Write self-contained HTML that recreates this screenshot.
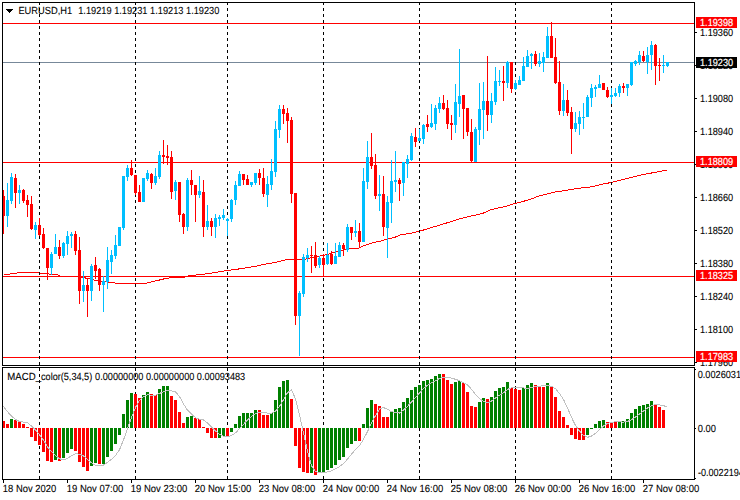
<!DOCTYPE html>
<html><head><meta charset="utf-8"><title>EURUSD,H1</title>
<style>
html,body{margin:0;padding:0;background:#fff;}
svg{display:block;}
text{font-family:"Liberation Sans",Arial,sans-serif;font-size:10.3px;fill:#000;stroke:#000;stroke-width:0.1px;text-rendering:geometricPrecision;}
.w{fill:#fff;stroke:#fff;stroke-width:0.2px;}
</style></head><body>
<svg width="740" height="500" viewBox="0 0 740 500">
<rect x="0" y="0" width="740" height="500" fill="#fff"/>
<g shape-rendering="crispEdges">
<rect x="3" y="23" width="691" height="1" fill="#ff0000"/>
<rect x="3" y="162" width="691" height="1" fill="#ff0000"/>
<rect x="3" y="276" width="691" height="1" fill="#ff0000"/>
<rect x="3" y="357" width="691" height="1" fill="#ff0000"/>
<rect x="3" y="62" width="691" height="1" fill="#778899"/>
<polyline points="3.5,274.5 9.5,274.5 10.5,273.5 16.5,273.5 17.5,272.5 38.5,272.5 39.5,273.5 48.5,273.5 49.5,274.5 57.5,274.5 58.5,275.5 60.5,276.5 78.5,276.5 85.5,278.0 95.5,280.3 110.5,282.4 118.5,283.5 144.5,283.5 148.5,282.6 157.5,280.5 165.5,278.5 173.5,277.5 183.5,277.5 189.5,275.7 202.5,274.3 215.5,272.5 227.5,270.5 241.5,268.6 254.5,266.5 267.5,263.7 276.5,262.2 286.5,259.5 304.5,259.5 309.5,258.1 325.5,254.9 331.5,253.2 341.5,250.6 349.5,248.5 357.5,248.5 364.5,245.5 372.5,242.7 380.5,241.1 387.5,239.1 395.5,237.0 401.6,234.3 408.5,233.8 419.5,231.3 429.5,228.1 440.5,224.9 453.5,220.8 458.5,219.2 466.5,217.1 482.4,213.5 490.5,209.9 498.6,207.8 506.8,206.2 514.9,203.5 523.5,201.3 531.5,198.9 539.5,195.7 547.3,194.0 555.4,191.9 563.5,190.8 576.5,188.6 592.4,186.7 600.5,184.6 612.5,182.2 625.5,178.9 641.5,174.9 657.3,171.9 667.5,170.0" fill="none" stroke="#ff0000" stroke-width="1"/>
<path d="M39 3h1v2h-1zM39 8h1v3h-1zM39 14h1v3h-1zM39 20h1v3h-1zM39 26h1v3h-1zM39 32h1v3h-1zM39 38h1v3h-1zM39 44h1v3h-1zM39 50h1v3h-1zM39 56h1v3h-1zM39 62h1v3h-1zM39 68h1v3h-1zM39 74h1v3h-1zM39 80h1v3h-1zM39 86h1v3h-1zM39 92h1v3h-1zM39 98h1v3h-1zM39 104h1v3h-1zM39 110h1v3h-1zM39 116h1v3h-1zM39 122h1v3h-1zM39 128h1v3h-1zM39 134h1v3h-1zM39 140h1v3h-1zM39 146h1v3h-1zM39 152h1v3h-1zM39 158h1v3h-1zM39 164h1v3h-1zM39 170h1v3h-1zM39 176h1v3h-1zM39 182h1v3h-1zM39 188h1v3h-1zM39 194h1v3h-1zM39 200h1v3h-1zM39 206h1v3h-1zM39 212h1v3h-1zM39 218h1v3h-1zM39 224h1v3h-1zM39 230h1v3h-1zM39 236h1v3h-1zM39 242h1v3h-1zM39 248h1v3h-1zM39 254h1v3h-1zM39 260h1v3h-1zM39 266h1v3h-1zM39 272h1v3h-1zM39 278h1v3h-1zM39 284h1v3h-1zM39 290h1v3h-1zM39 296h1v3h-1zM39 302h1v3h-1zM39 308h1v3h-1zM39 314h1v3h-1zM39 320h1v3h-1zM39 326h1v3h-1zM39 332h1v3h-1zM39 338h1v3h-1zM39 344h1v3h-1zM39 350h1v3h-1zM39 356h1v3h-1zM39 362h1v3h-1zM39 368h1v3h-1zM39 374h1v3h-1zM39 380h1v3h-1zM39 386h1v3h-1zM39 392h1v3h-1zM39 398h1v3h-1zM39 404h1v3h-1zM39 410h1v3h-1zM39 416h1v3h-1zM39 422h1v3h-1zM39 428h1v3h-1zM39 434h1v3h-1zM39 440h1v3h-1zM39 446h1v3h-1zM39 452h1v3h-1zM39 458h1v3h-1zM39 464h1v3h-1zM39 470h1v3h-1zM39 476h1v3h-1zM135 3h1v2h-1zM135 8h1v3h-1zM135 14h1v3h-1zM135 20h1v3h-1zM135 26h1v3h-1zM135 32h1v3h-1zM135 38h1v3h-1zM135 44h1v3h-1zM135 50h1v3h-1zM135 56h1v3h-1zM135 62h1v3h-1zM135 68h1v3h-1zM135 74h1v3h-1zM135 80h1v3h-1zM135 86h1v3h-1zM135 92h1v3h-1zM135 98h1v3h-1zM135 104h1v3h-1zM135 110h1v3h-1zM135 116h1v3h-1zM135 122h1v3h-1zM135 128h1v3h-1zM135 134h1v3h-1zM135 140h1v3h-1zM135 146h1v3h-1zM135 152h1v3h-1zM135 158h1v3h-1zM135 164h1v3h-1zM135 170h1v3h-1zM135 176h1v3h-1zM135 182h1v3h-1zM135 188h1v3h-1zM135 194h1v3h-1zM135 200h1v3h-1zM135 206h1v3h-1zM135 212h1v3h-1zM135 218h1v3h-1zM135 224h1v3h-1zM135 230h1v3h-1zM135 236h1v3h-1zM135 242h1v3h-1zM135 248h1v3h-1zM135 254h1v3h-1zM135 260h1v3h-1zM135 266h1v3h-1zM135 272h1v3h-1zM135 278h1v3h-1zM135 284h1v3h-1zM135 290h1v3h-1zM135 296h1v3h-1zM135 302h1v3h-1zM135 308h1v3h-1zM135 314h1v3h-1zM135 320h1v3h-1zM135 326h1v3h-1zM135 332h1v3h-1zM135 338h1v3h-1zM135 344h1v3h-1zM135 350h1v3h-1zM135 356h1v3h-1zM135 362h1v3h-1zM135 368h1v3h-1zM135 374h1v3h-1zM135 380h1v3h-1zM135 386h1v3h-1zM135 392h1v3h-1zM135 398h1v3h-1zM135 404h1v3h-1zM135 410h1v3h-1zM135 416h1v3h-1zM135 422h1v3h-1zM135 428h1v3h-1zM135 434h1v3h-1zM135 440h1v3h-1zM135 446h1v3h-1zM135 452h1v3h-1zM135 458h1v3h-1zM135 464h1v3h-1zM135 470h1v3h-1zM135 476h1v3h-1zM227 3h1v2h-1zM227 8h1v3h-1zM227 14h1v3h-1zM227 20h1v3h-1zM227 26h1v3h-1zM227 32h1v3h-1zM227 38h1v3h-1zM227 44h1v3h-1zM227 50h1v3h-1zM227 56h1v3h-1zM227 62h1v3h-1zM227 68h1v3h-1zM227 74h1v3h-1zM227 80h1v3h-1zM227 86h1v3h-1zM227 92h1v3h-1zM227 98h1v3h-1zM227 104h1v3h-1zM227 110h1v3h-1zM227 116h1v3h-1zM227 122h1v3h-1zM227 128h1v3h-1zM227 134h1v3h-1zM227 140h1v3h-1zM227 146h1v3h-1zM227 152h1v3h-1zM227 158h1v3h-1zM227 164h1v3h-1zM227 170h1v3h-1zM227 176h1v3h-1zM227 182h1v3h-1zM227 188h1v3h-1zM227 194h1v3h-1zM227 200h1v3h-1zM227 206h1v3h-1zM227 212h1v3h-1zM227 218h1v3h-1zM227 224h1v3h-1zM227 230h1v3h-1zM227 236h1v3h-1zM227 242h1v3h-1zM227 248h1v3h-1zM227 254h1v3h-1zM227 260h1v3h-1zM227 266h1v3h-1zM227 272h1v3h-1zM227 278h1v3h-1zM227 284h1v3h-1zM227 290h1v3h-1zM227 296h1v3h-1zM227 302h1v3h-1zM227 308h1v3h-1zM227 314h1v3h-1zM227 320h1v3h-1zM227 326h1v3h-1zM227 332h1v3h-1zM227 338h1v3h-1zM227 344h1v3h-1zM227 350h1v3h-1zM227 356h1v3h-1zM227 362h1v3h-1zM227 368h1v3h-1zM227 374h1v3h-1zM227 380h1v3h-1zM227 386h1v3h-1zM227 392h1v3h-1zM227 398h1v3h-1zM227 404h1v3h-1zM227 410h1v3h-1zM227 416h1v3h-1zM227 422h1v3h-1zM227 428h1v3h-1zM227 434h1v3h-1zM227 440h1v3h-1zM227 446h1v3h-1zM227 452h1v3h-1zM227 458h1v3h-1zM227 464h1v3h-1zM227 470h1v3h-1zM227 476h1v3h-1zM323 3h1v2h-1zM323 8h1v3h-1zM323 14h1v3h-1zM323 20h1v3h-1zM323 26h1v3h-1zM323 32h1v3h-1zM323 38h1v3h-1zM323 44h1v3h-1zM323 50h1v3h-1zM323 56h1v3h-1zM323 62h1v3h-1zM323 68h1v3h-1zM323 74h1v3h-1zM323 80h1v3h-1zM323 86h1v3h-1zM323 92h1v3h-1zM323 98h1v3h-1zM323 104h1v3h-1zM323 110h1v3h-1zM323 116h1v3h-1zM323 122h1v3h-1zM323 128h1v3h-1zM323 134h1v3h-1zM323 140h1v3h-1zM323 146h1v3h-1zM323 152h1v3h-1zM323 158h1v3h-1zM323 164h1v3h-1zM323 170h1v3h-1zM323 176h1v3h-1zM323 182h1v3h-1zM323 188h1v3h-1zM323 194h1v3h-1zM323 200h1v3h-1zM323 206h1v3h-1zM323 212h1v3h-1zM323 218h1v3h-1zM323 224h1v3h-1zM323 230h1v3h-1zM323 236h1v3h-1zM323 242h1v3h-1zM323 248h1v3h-1zM323 254h1v3h-1zM323 260h1v3h-1zM323 266h1v3h-1zM323 272h1v3h-1zM323 278h1v3h-1zM323 284h1v3h-1zM323 290h1v3h-1zM323 296h1v3h-1zM323 302h1v3h-1zM323 308h1v3h-1zM323 314h1v3h-1zM323 320h1v3h-1zM323 326h1v3h-1zM323 332h1v3h-1zM323 338h1v3h-1zM323 344h1v3h-1zM323 350h1v3h-1zM323 356h1v3h-1zM323 362h1v3h-1zM323 368h1v3h-1zM323 374h1v3h-1zM323 380h1v3h-1zM323 386h1v3h-1zM323 392h1v3h-1zM323 398h1v3h-1zM323 404h1v3h-1zM323 410h1v3h-1zM323 416h1v3h-1zM323 422h1v3h-1zM323 428h1v3h-1zM323 434h1v3h-1zM323 440h1v3h-1zM323 446h1v3h-1zM323 452h1v3h-1zM323 458h1v3h-1zM323 464h1v3h-1zM323 470h1v3h-1zM323 476h1v3h-1zM419 3h1v2h-1zM419 8h1v3h-1zM419 14h1v3h-1zM419 20h1v3h-1zM419 26h1v3h-1zM419 32h1v3h-1zM419 38h1v3h-1zM419 44h1v3h-1zM419 50h1v3h-1zM419 56h1v3h-1zM419 62h1v3h-1zM419 68h1v3h-1zM419 74h1v3h-1zM419 80h1v3h-1zM419 86h1v3h-1zM419 92h1v3h-1zM419 98h1v3h-1zM419 104h1v3h-1zM419 110h1v3h-1zM419 116h1v3h-1zM419 122h1v3h-1zM419 128h1v3h-1zM419 134h1v3h-1zM419 140h1v3h-1zM419 146h1v3h-1zM419 152h1v3h-1zM419 158h1v3h-1zM419 164h1v3h-1zM419 170h1v3h-1zM419 176h1v3h-1zM419 182h1v3h-1zM419 188h1v3h-1zM419 194h1v3h-1zM419 200h1v3h-1zM419 206h1v3h-1zM419 212h1v3h-1zM419 218h1v3h-1zM419 224h1v3h-1zM419 230h1v3h-1zM419 236h1v3h-1zM419 242h1v3h-1zM419 248h1v3h-1zM419 254h1v3h-1zM419 260h1v3h-1zM419 266h1v3h-1zM419 272h1v3h-1zM419 278h1v3h-1zM419 284h1v3h-1zM419 290h1v3h-1zM419 296h1v3h-1zM419 302h1v3h-1zM419 308h1v3h-1zM419 314h1v3h-1zM419 320h1v3h-1zM419 326h1v3h-1zM419 332h1v3h-1zM419 338h1v3h-1zM419 344h1v3h-1zM419 350h1v3h-1zM419 356h1v3h-1zM419 362h1v3h-1zM419 368h1v3h-1zM419 374h1v3h-1zM419 380h1v3h-1zM419 386h1v3h-1zM419 392h1v3h-1zM419 398h1v3h-1zM419 404h1v3h-1zM419 410h1v3h-1zM419 416h1v3h-1zM419 422h1v3h-1zM419 428h1v3h-1zM419 434h1v3h-1zM419 440h1v3h-1zM419 446h1v3h-1zM419 452h1v3h-1zM419 458h1v3h-1zM419 464h1v3h-1zM419 470h1v3h-1zM419 476h1v3h-1zM515 3h1v2h-1zM515 8h1v3h-1zM515 14h1v3h-1zM515 20h1v3h-1zM515 26h1v3h-1zM515 32h1v3h-1zM515 38h1v3h-1zM515 44h1v3h-1zM515 50h1v3h-1zM515 56h1v3h-1zM515 62h1v3h-1zM515 68h1v3h-1zM515 74h1v3h-1zM515 80h1v3h-1zM515 86h1v3h-1zM515 92h1v3h-1zM515 98h1v3h-1zM515 104h1v3h-1zM515 110h1v3h-1zM515 116h1v3h-1zM515 122h1v3h-1zM515 128h1v3h-1zM515 134h1v3h-1zM515 140h1v3h-1zM515 146h1v3h-1zM515 152h1v3h-1zM515 158h1v3h-1zM515 164h1v3h-1zM515 170h1v3h-1zM515 176h1v3h-1zM515 182h1v3h-1zM515 188h1v3h-1zM515 194h1v3h-1zM515 200h1v3h-1zM515 206h1v3h-1zM515 212h1v3h-1zM515 218h1v3h-1zM515 224h1v3h-1zM515 230h1v3h-1zM515 236h1v3h-1zM515 242h1v3h-1zM515 248h1v3h-1zM515 254h1v3h-1zM515 260h1v3h-1zM515 266h1v3h-1zM515 272h1v3h-1zM515 278h1v3h-1zM515 284h1v3h-1zM515 290h1v3h-1zM515 296h1v3h-1zM515 302h1v3h-1zM515 308h1v3h-1zM515 314h1v3h-1zM515 320h1v3h-1zM515 326h1v3h-1zM515 332h1v3h-1zM515 338h1v3h-1zM515 344h1v3h-1zM515 350h1v3h-1zM515 356h1v3h-1zM515 362h1v3h-1zM515 368h1v3h-1zM515 374h1v3h-1zM515 380h1v3h-1zM515 386h1v3h-1zM515 392h1v3h-1zM515 398h1v3h-1zM515 404h1v3h-1zM515 410h1v3h-1zM515 416h1v3h-1zM515 422h1v3h-1zM515 428h1v3h-1zM515 434h1v3h-1zM515 440h1v3h-1zM515 446h1v3h-1zM515 452h1v3h-1zM515 458h1v3h-1zM515 464h1v3h-1zM515 470h1v3h-1zM515 476h1v3h-1zM611 3h1v2h-1zM611 8h1v3h-1zM611 14h1v3h-1zM611 20h1v3h-1zM611 26h1v3h-1zM611 32h1v3h-1zM611 38h1v3h-1zM611 44h1v3h-1zM611 50h1v3h-1zM611 56h1v3h-1zM611 62h1v3h-1zM611 68h1v3h-1zM611 74h1v3h-1zM611 80h1v3h-1zM611 86h1v3h-1zM611 92h1v3h-1zM611 98h1v3h-1zM611 104h1v3h-1zM611 110h1v3h-1zM611 116h1v3h-1zM611 122h1v3h-1zM611 128h1v3h-1zM611 134h1v3h-1zM611 140h1v3h-1zM611 146h1v3h-1zM611 152h1v3h-1zM611 158h1v3h-1zM611 164h1v3h-1zM611 170h1v3h-1zM611 176h1v3h-1zM611 182h1v3h-1zM611 188h1v3h-1zM611 194h1v3h-1zM611 200h1v3h-1zM611 206h1v3h-1zM611 212h1v3h-1zM611 218h1v3h-1zM611 224h1v3h-1zM611 230h1v3h-1zM611 236h1v3h-1zM611 242h1v3h-1zM611 248h1v3h-1zM611 254h1v3h-1zM611 260h1v3h-1zM611 266h1v3h-1zM611 272h1v3h-1zM611 278h1v3h-1zM611 284h1v3h-1zM611 290h1v3h-1zM611 296h1v3h-1zM611 302h1v3h-1zM611 308h1v3h-1zM611 314h1v3h-1zM611 320h1v3h-1zM611 326h1v3h-1zM611 332h1v3h-1zM611 338h1v3h-1zM611 344h1v3h-1zM611 350h1v3h-1zM611 356h1v3h-1zM611 362h1v3h-1zM611 368h1v3h-1zM611 374h1v3h-1zM611 380h1v3h-1zM611 386h1v3h-1zM611 392h1v3h-1zM611 398h1v3h-1zM611 404h1v3h-1zM611 410h1v3h-1zM611 416h1v3h-1zM611 422h1v3h-1zM611 428h1v3h-1zM611 434h1v3h-1zM611 440h1v3h-1zM611 446h1v3h-1zM611 452h1v3h-1zM611 458h1v3h-1zM611 464h1v3h-1zM611 470h1v3h-1zM611 476h1v3h-1z" fill="#000"/>
<rect x="3" y="190" width="1" height="44" fill="#ff0000"/><rect x="2" y="196" width="3" height="20" fill="#ff0000"/>
<rect x="7" y="183" width="1" height="44" fill="#00bfff"/><rect x="6" y="200" width="3" height="16" fill="#00bfff"/>
<rect x="11" y="173" width="1" height="31" fill="#00bfff"/><rect x="10" y="177" width="3" height="24" fill="#00bfff"/>
<rect x="15" y="174" width="1" height="34" fill="#ff0000"/><rect x="14" y="178" width="3" height="15" fill="#ff0000"/>
<rect x="19" y="185" width="1" height="19" fill="#00bfff"/><rect x="18" y="190" width="3" height="3" fill="#00bfff"/>
<rect x="23" y="189" width="1" height="14" fill="#ff0000"/><rect x="22" y="190" width="3" height="11" fill="#ff0000"/>
<rect x="27" y="195" width="1" height="22" fill="#ff0000"/><rect x="26" y="200" width="3" height="5" fill="#ff0000"/>
<rect x="31" y="196" width="1" height="34" fill="#ff0000"/><rect x="30" y="204" width="3" height="25" fill="#ff0000"/>
<rect x="35" y="222" width="1" height="17" fill="#00bfff"/><rect x="34" y="225" width="3" height="5" fill="#00bfff"/>
<rect x="39" y="218" width="1" height="18" fill="#ff0000"/><rect x="38" y="225" width="3" height="10" fill="#ff0000"/>
<rect x="43" y="228" width="1" height="21" fill="#ff0000"/><rect x="42" y="234" width="3" height="14" fill="#ff0000"/>
<rect x="47" y="248" width="1" height="32" fill="#ff0000"/><rect x="46" y="248" width="3" height="20" fill="#ff0000"/>
<rect x="51" y="252" width="1" height="23" fill="#00bfff"/><rect x="50" y="254" width="3" height="14" fill="#00bfff"/>
<rect x="55" y="234" width="1" height="20" fill="#00bfff"/><rect x="54" y="247" width="3" height="7" fill="#00bfff"/>
<rect x="59" y="240" width="1" height="19" fill="#ff0000"/><rect x="58" y="247" width="3" height="9" fill="#ff0000"/>
<rect x="63" y="242" width="1" height="16" fill="#00bfff"/><rect x="62" y="243" width="3" height="13" fill="#00bfff"/>
<rect x="67" y="231" width="1" height="24" fill="#00bfff"/><rect x="66" y="236" width="3" height="8" fill="#00bfff"/>
<rect x="71" y="232" width="1" height="16" fill="#00bfff"/><rect x="70" y="234" width="3" height="2" fill="#00bfff"/>
<rect x="75" y="231" width="1" height="24" fill="#ff0000"/><rect x="74" y="234" width="3" height="17" fill="#ff0000"/>
<rect x="79" y="237" width="1" height="67" fill="#ff0000"/><rect x="78" y="250" width="3" height="41" fill="#ff0000"/>
<rect x="83" y="271" width="1" height="31" fill="#00bfff"/><rect x="82" y="285" width="3" height="6" fill="#00bfff"/>
<rect x="87" y="278" width="1" height="39" fill="#ff0000"/><rect x="86" y="285" width="3" height="6" fill="#ff0000"/>
<rect x="91" y="264" width="1" height="37" fill="#00bfff"/><rect x="90" y="266" width="3" height="25" fill="#00bfff"/>
<rect x="95" y="257" width="1" height="22" fill="#ff0000"/><rect x="94" y="265" width="3" height="6" fill="#ff0000"/>
<rect x="99" y="268" width="1" height="23" fill="#ff0000"/><rect x="98" y="269" width="3" height="16" fill="#ff0000"/>
<rect x="103" y="276" width="1" height="36" fill="#00bfff"/><rect x="102" y="281" width="3" height="4" fill="#00bfff"/>
<rect x="107" y="247" width="1" height="42" fill="#00bfff"/><rect x="106" y="260" width="3" height="22" fill="#00bfff"/>
<rect x="111" y="250" width="1" height="24" fill="#00bfff"/><rect x="110" y="255" width="3" height="7" fill="#00bfff"/>
<rect x="115" y="235" width="1" height="24" fill="#00bfff"/><rect x="114" y="245" width="3" height="11" fill="#00bfff"/>
<rect x="119" y="227" width="1" height="19" fill="#00bfff"/><rect x="118" y="227" width="3" height="19" fill="#00bfff"/>
<rect x="123" y="176" width="1" height="54" fill="#00bfff"/><rect x="122" y="176" width="3" height="52" fill="#00bfff"/>
<rect x="127" y="165" width="1" height="16" fill="#00bfff"/><rect x="126" y="168" width="3" height="9" fill="#00bfff"/>
<rect x="131" y="160" width="1" height="16" fill="#ff0000"/><rect x="130" y="168" width="3" height="7" fill="#ff0000"/>
<rect x="135" y="175" width="1" height="20" fill="#ff0000"/><rect x="134" y="175" width="3" height="18" fill="#ff0000"/>
<rect x="139" y="185" width="1" height="17" fill="#ff0000"/><rect x="138" y="192" width="3" height="10" fill="#ff0000"/>
<rect x="143" y="178" width="1" height="24" fill="#00bfff"/><rect x="142" y="178" width="3" height="24" fill="#00bfff"/>
<rect x="147" y="170" width="1" height="11" fill="#00bfff"/><rect x="146" y="173" width="3" height="6" fill="#00bfff"/>
<rect x="151" y="173" width="1" height="16" fill="#ff0000"/><rect x="150" y="174" width="3" height="9" fill="#ff0000"/>
<rect x="155" y="168" width="1" height="17" fill="#00bfff"/><rect x="154" y="176" width="3" height="7" fill="#00bfff"/>
<rect x="159" y="151" width="1" height="28" fill="#00bfff"/><rect x="158" y="155" width="3" height="22" fill="#00bfff"/>
<rect x="163" y="140" width="1" height="24" fill="#ff0000"/><rect x="162" y="155" width="3" height="2" fill="#ff0000"/>
<rect x="167" y="145" width="1" height="20" fill="#ff0000"/><rect x="166" y="156" width="3" height="2" fill="#ff0000"/>
<rect x="171" y="151" width="1" height="48" fill="#ff0000"/><rect x="170" y="157" width="3" height="35" fill="#ff0000"/>
<rect x="175" y="180" width="1" height="20" fill="#00bfff"/><rect x="174" y="182" width="3" height="9" fill="#00bfff"/>
<rect x="179" y="182" width="1" height="40" fill="#ff0000"/><rect x="178" y="182" width="3" height="33" fill="#ff0000"/>
<rect x="183" y="213" width="1" height="21" fill="#ff0000"/><rect x="182" y="214" width="3" height="13" fill="#ff0000"/>
<rect x="187" y="178" width="1" height="53" fill="#00bfff"/><rect x="186" y="180" width="3" height="47" fill="#00bfff"/>
<rect x="191" y="170" width="1" height="25" fill="#ff0000"/><rect x="190" y="180" width="3" height="5" fill="#ff0000"/>
<rect x="195" y="185" width="1" height="37" fill="#ff0000"/><rect x="194" y="185" width="3" height="10" fill="#ff0000"/>
<rect x="199" y="176" width="1" height="22" fill="#00bfff"/><rect x="198" y="191" width="3" height="4" fill="#00bfff"/>
<rect x="203" y="180" width="1" height="57" fill="#ff0000"/><rect x="202" y="192" width="3" height="35" fill="#ff0000"/>
<rect x="207" y="205" width="1" height="25" fill="#00bfff"/><rect x="206" y="221" width="3" height="6" fill="#00bfff"/>
<rect x="211" y="218" width="1" height="18" fill="#ff0000"/><rect x="210" y="221" width="3" height="6" fill="#ff0000"/>
<rect x="215" y="214" width="1" height="24" fill="#00bfff"/><rect x="214" y="218" width="3" height="9" fill="#00bfff"/>
<rect x="219" y="215" width="1" height="11" fill="#00bfff"/><rect x="218" y="217" width="3" height="2" fill="#00bfff"/>
<rect x="223" y="209" width="1" height="11" fill="#00bfff"/><rect x="222" y="215" width="3" height="3" fill="#00bfff"/>
<rect x="227" y="218" width="1" height="18" fill="#00bfff"/><rect x="226" y="219" width="3" height="2" fill="#00bfff"/>
<rect x="231" y="199" width="1" height="23" fill="#00bfff"/><rect x="230" y="200" width="3" height="19" fill="#00bfff"/>
<rect x="235" y="181" width="1" height="24" fill="#00bfff"/><rect x="234" y="185" width="3" height="15" fill="#00bfff"/>
<rect x="239" y="171" width="1" height="15" fill="#00bfff"/><rect x="238" y="174" width="3" height="12" fill="#00bfff"/>
<rect x="243" y="174" width="1" height="11" fill="#ff0000"/><rect x="242" y="174" width="3" height="6" fill="#ff0000"/>
<rect x="247" y="175" width="1" height="10" fill="#ff0000"/><rect x="246" y="179" width="3" height="6" fill="#ff0000"/>
<rect x="251" y="182" width="1" height="5" fill="#00bfff"/><rect x="250" y="182" width="3" height="3" fill="#00bfff"/>
<rect x="255" y="173" width="1" height="12" fill="#00bfff"/><rect x="254" y="173" width="3" height="10" fill="#00bfff"/>
<rect x="259" y="169" width="1" height="16" fill="#ff0000"/><rect x="258" y="173" width="3" height="5" fill="#ff0000"/>
<rect x="263" y="168" width="1" height="29" fill="#ff0000"/><rect x="262" y="178" width="3" height="16" fill="#ff0000"/>
<rect x="267" y="176" width="1" height="31" fill="#00bfff"/><rect x="266" y="184" width="3" height="11" fill="#00bfff"/>
<rect x="271" y="159" width="1" height="31" fill="#00bfff"/><rect x="270" y="171" width="3" height="14" fill="#00bfff"/>
<rect x="275" y="121" width="1" height="56" fill="#00bfff"/><rect x="274" y="129" width="3" height="43" fill="#00bfff"/>
<rect x="279" y="105" width="1" height="33" fill="#00bfff"/><rect x="278" y="109" width="3" height="21" fill="#00bfff"/>
<rect x="283" y="105" width="1" height="19" fill="#ff0000"/><rect x="282" y="109" width="3" height="5" fill="#ff0000"/>
<rect x="287" y="108" width="1" height="35" fill="#ff0000"/><rect x="286" y="113" width="3" height="8" fill="#ff0000"/>
<rect x="291" y="117" width="1" height="86" fill="#ff0000"/><rect x="290" y="120" width="3" height="74" fill="#ff0000"/>
<rect x="295" y="193" width="1" height="132" fill="#ff0000"/><rect x="294" y="193" width="3" height="123" fill="#ff0000"/>
<rect x="299" y="291" width="1" height="65" fill="#00bfff"/><rect x="298" y="293" width="3" height="23" fill="#00bfff"/>
<rect x="303" y="254" width="1" height="43" fill="#00bfff"/><rect x="302" y="257" width="3" height="37" fill="#00bfff"/>
<rect x="307" y="248" width="1" height="14" fill="#00bfff"/><rect x="306" y="255" width="3" height="3" fill="#00bfff"/>
<rect x="311" y="246" width="1" height="27" fill="#ff0000"/><rect x="310" y="255" width="3" height="1" fill="#ff0000"/>
<rect x="315" y="242" width="1" height="26" fill="#ff0000"/><rect x="314" y="255" width="3" height="11" fill="#ff0000"/>
<rect x="319" y="256" width="1" height="12" fill="#00bfff"/><rect x="318" y="258" width="3" height="7" fill="#00bfff"/>
<rect x="323" y="254" width="1" height="22" fill="#ff0000"/><rect x="322" y="258" width="3" height="7" fill="#ff0000"/>
<rect x="327" y="243" width="1" height="22" fill="#00bfff"/><rect x="326" y="255" width="3" height="9" fill="#00bfff"/>
<rect x="331" y="251" width="1" height="14" fill="#ff0000"/><rect x="330" y="254" width="3" height="10" fill="#ff0000"/>
<rect x="335" y="243" width="1" height="21" fill="#00bfff"/><rect x="334" y="256" width="3" height="8" fill="#00bfff"/>
<rect x="339" y="242" width="1" height="15" fill="#00bfff"/><rect x="338" y="245" width="3" height="12" fill="#00bfff"/>
<rect x="343" y="243" width="1" height="13" fill="#ff0000"/><rect x="342" y="245" width="3" height="4" fill="#ff0000"/>
<rect x="347" y="224" width="1" height="28" fill="#00bfff"/><rect x="346" y="227" width="3" height="23" fill="#00bfff"/>
<rect x="351" y="227" width="1" height="13" fill="#ff0000"/><rect x="350" y="227" width="3" height="6" fill="#ff0000"/>
<rect x="355" y="220" width="1" height="17" fill="#00bfff"/><rect x="354" y="231" width="3" height="2" fill="#00bfff"/>
<rect x="359" y="223" width="1" height="25" fill="#ff0000"/><rect x="358" y="231" width="3" height="11" fill="#ff0000"/>
<rect x="363" y="168" width="1" height="74" fill="#00bfff"/><rect x="362" y="181" width="3" height="61" fill="#00bfff"/>
<rect x="367" y="141" width="1" height="48" fill="#00bfff"/><rect x="366" y="157" width="3" height="25" fill="#00bfff"/>
<rect x="371" y="133" width="1" height="36" fill="#ff0000"/><rect x="370" y="157" width="3" height="9" fill="#ff0000"/>
<rect x="375" y="154" width="1" height="45" fill="#ff0000"/><rect x="374" y="165" width="3" height="31" fill="#ff0000"/>
<rect x="379" y="175" width="1" height="36" fill="#00bfff"/><rect x="378" y="194" width="3" height="2" fill="#00bfff"/>
<rect x="383" y="176" width="1" height="60" fill="#ff0000"/><rect x="382" y="194" width="3" height="33" fill="#ff0000"/>
<rect x="387" y="196" width="1" height="62" fill="#00bfff"/><rect x="386" y="202" width="3" height="26" fill="#00bfff"/>
<rect x="391" y="160" width="1" height="63" fill="#00bfff"/><rect x="390" y="181" width="3" height="22" fill="#00bfff"/>
<rect x="395" y="151" width="1" height="41" fill="#00bfff"/><rect x="394" y="180" width="3" height="2" fill="#00bfff"/>
<rect x="399" y="178" width="1" height="23" fill="#ff0000"/><rect x="398" y="180" width="3" height="4" fill="#ff0000"/>
<rect x="403" y="162" width="1" height="34" fill="#00bfff"/><rect x="402" y="162" width="3" height="21" fill="#00bfff"/>
<rect x="407" y="155" width="1" height="23" fill="#00bfff"/><rect x="406" y="159" width="3" height="5" fill="#00bfff"/>
<rect x="411" y="133" width="1" height="28" fill="#00bfff"/><rect x="410" y="136" width="3" height="24" fill="#00bfff"/>
<rect x="415" y="128" width="1" height="19" fill="#ff0000"/><rect x="414" y="137" width="3" height="5" fill="#ff0000"/>
<rect x="419" y="129" width="1" height="12" fill="#00bfff"/><rect x="418" y="138" width="3" height="3" fill="#00bfff"/>
<rect x="423" y="124" width="1" height="20" fill="#00bfff"/><rect x="422" y="125" width="3" height="14" fill="#00bfff"/>
<rect x="427" y="115" width="1" height="17" fill="#ff0000"/><rect x="426" y="124" width="3" height="3" fill="#ff0000"/>
<rect x="431" y="104" width="1" height="24" fill="#00bfff"/><rect x="430" y="123" width="3" height="4" fill="#00bfff"/>
<rect x="435" y="105" width="1" height="25" fill="#00bfff"/><rect x="434" y="108" width="3" height="16" fill="#00bfff"/>
<rect x="439" y="97" width="1" height="16" fill="#00bfff"/><rect x="438" y="103" width="3" height="6" fill="#00bfff"/>
<rect x="443" y="95" width="1" height="15" fill="#ff0000"/><rect x="442" y="103" width="3" height="6" fill="#ff0000"/>
<rect x="447" y="100" width="1" height="29" fill="#ff0000"/><rect x="446" y="108" width="3" height="16" fill="#ff0000"/>
<rect x="451" y="115" width="1" height="25" fill="#ff0000"/><rect x="450" y="123" width="3" height="2" fill="#ff0000"/>
<rect x="455" y="84" width="1" height="49" fill="#00bfff"/><rect x="454" y="102" width="3" height="23" fill="#00bfff"/>
<rect x="459" y="49" width="1" height="68" fill="#00bfff"/><rect x="458" y="96" width="3" height="8" fill="#00bfff"/>
<rect x="463" y="95" width="1" height="44" fill="#ff0000"/><rect x="462" y="95" width="3" height="14" fill="#ff0000"/>
<rect x="467" y="108" width="1" height="28" fill="#ff0000"/><rect x="466" y="108" width="3" height="24" fill="#ff0000"/>
<rect x="471" y="119" width="1" height="43" fill="#ff0000"/><rect x="470" y="132" width="3" height="29" fill="#ff0000"/>
<rect x="475" y="127" width="1" height="35" fill="#00bfff"/><rect x="474" y="129" width="3" height="33" fill="#00bfff"/>
<rect x="479" y="83" width="1" height="62" fill="#00bfff"/><rect x="478" y="109" width="3" height="21" fill="#00bfff"/>
<rect x="483" y="82" width="1" height="57" fill="#00bfff"/><rect x="482" y="101" width="3" height="9" fill="#00bfff"/>
<rect x="487" y="56" width="1" height="75" fill="#ff0000"/><rect x="486" y="101" width="3" height="14" fill="#ff0000"/>
<rect x="491" y="93" width="1" height="30" fill="#00bfff"/><rect x="490" y="101" width="3" height="14" fill="#00bfff"/>
<rect x="495" y="67" width="1" height="38" fill="#00bfff"/><rect x="494" y="81" width="3" height="21" fill="#00bfff"/>
<rect x="499" y="70" width="1" height="16" fill="#00bfff"/><rect x="498" y="81" width="3" height="1" fill="#00bfff"/>
<rect x="503" y="66" width="1" height="35" fill="#ff0000"/><rect x="502" y="81" width="3" height="2" fill="#ff0000"/>
<rect x="507" y="61" width="1" height="27" fill="#00bfff"/><rect x="506" y="62" width="3" height="21" fill="#00bfff"/>
<rect x="511" y="62" width="1" height="31" fill="#ff0000"/><rect x="510" y="62" width="3" height="27" fill="#ff0000"/>
<rect x="515" y="80" width="1" height="10" fill="#00bfff"/><rect x="514" y="83" width="3" height="6" fill="#00bfff"/>
<rect x="519" y="76" width="1" height="9" fill="#00bfff"/><rect x="518" y="80" width="3" height="5" fill="#00bfff"/>
<rect x="523" y="57" width="1" height="24" fill="#00bfff"/><rect x="522" y="66" width="3" height="15" fill="#00bfff"/>
<rect x="527" y="50" width="1" height="17" fill="#00bfff"/><rect x="526" y="56" width="3" height="11" fill="#00bfff"/>
<rect x="531" y="53" width="1" height="16" fill="#00bfff"/><rect x="530" y="54" width="3" height="2" fill="#00bfff"/>
<rect x="535" y="51" width="1" height="15" fill="#ff0000"/><rect x="534" y="54" width="3" height="10" fill="#ff0000"/>
<rect x="539" y="53" width="1" height="14" fill="#00bfff"/><rect x="538" y="61" width="3" height="3" fill="#00bfff"/>
<rect x="543" y="52" width="1" height="20" fill="#00bfff"/><rect x="542" y="57" width="3" height="6" fill="#00bfff"/>
<rect x="547" y="27" width="1" height="31" fill="#00bfff"/><rect x="546" y="36" width="3" height="22" fill="#00bfff"/>
<rect x="551" y="22" width="1" height="36" fill="#ff0000"/><rect x="550" y="36" width="3" height="22" fill="#ff0000"/>
<rect x="555" y="38" width="1" height="46" fill="#ff0000"/><rect x="554" y="57" width="3" height="26" fill="#ff0000"/>
<rect x="559" y="61" width="1" height="54" fill="#ff0000"/><rect x="558" y="82" width="3" height="29" fill="#ff0000"/>
<rect x="563" y="84" width="1" height="32" fill="#00bfff"/><rect x="562" y="100" width="3" height="11" fill="#00bfff"/>
<rect x="567" y="90" width="1" height="26" fill="#ff0000"/><rect x="566" y="100" width="3" height="13" fill="#ff0000"/>
<rect x="571" y="107" width="1" height="47" fill="#ff0000"/><rect x="570" y="112" width="3" height="17" fill="#ff0000"/>
<rect x="575" y="112" width="1" height="20" fill="#00bfff"/><rect x="574" y="123" width="3" height="6" fill="#00bfff"/>
<rect x="579" y="111" width="1" height="24" fill="#00bfff"/><rect x="578" y="117" width="3" height="7" fill="#00bfff"/>
<rect x="583" y="103" width="1" height="26" fill="#00bfff"/><rect x="582" y="117" width="3" height="1" fill="#00bfff"/>
<rect x="587" y="95" width="1" height="22" fill="#00bfff"/><rect x="586" y="97" width="3" height="20" fill="#00bfff"/>
<rect x="591" y="84" width="1" height="23" fill="#00bfff"/><rect x="590" y="88" width="3" height="10" fill="#00bfff"/>
<rect x="595" y="85" width="1" height="12" fill="#00bfff"/><rect x="594" y="87" width="3" height="2" fill="#00bfff"/>
<rect x="599" y="75" width="1" height="13" fill="#00bfff"/><rect x="598" y="84" width="3" height="4" fill="#00bfff"/>
<rect x="603" y="83" width="1" height="7" fill="#ff0000"/><rect x="602" y="83" width="3" height="7" fill="#ff0000"/>
<rect x="607" y="87" width="1" height="11" fill="#ff0000"/><rect x="606" y="90" width="3" height="7" fill="#ff0000"/>
<rect x="611" y="88" width="1" height="16" fill="#00bfff"/><rect x="610" y="95" width="3" height="2" fill="#00bfff"/>
<rect x="615" y="88" width="1" height="9" fill="#00bfff"/><rect x="614" y="93" width="3" height="3" fill="#00bfff"/>
<rect x="619" y="84" width="1" height="13" fill="#00bfff"/><rect x="618" y="86" width="3" height="7" fill="#00bfff"/>
<rect x="623" y="83" width="1" height="10" fill="#ff0000"/><rect x="622" y="86" width="3" height="2" fill="#ff0000"/>
<rect x="627" y="84" width="1" height="12" fill="#00bfff"/><rect x="626" y="84" width="3" height="4" fill="#00bfff"/>
<rect x="631" y="62" width="1" height="24" fill="#00bfff"/><rect x="630" y="62" width="3" height="23" fill="#00bfff"/>
<rect x="635" y="60" width="1" height="6" fill="#00bfff"/><rect x="634" y="61" width="3" height="3" fill="#00bfff"/>
<rect x="639" y="51" width="1" height="14" fill="#00bfff"/><rect x="638" y="55" width="3" height="7" fill="#00bfff"/>
<rect x="643" y="51" width="1" height="11" fill="#ff0000"/><rect x="642" y="56" width="3" height="5" fill="#ff0000"/>
<rect x="647" y="47" width="1" height="27" fill="#00bfff"/><rect x="646" y="55" width="3" height="7" fill="#00bfff"/>
<rect x="651" y="41" width="1" height="29" fill="#00bfff"/><rect x="650" y="45" width="3" height="10" fill="#00bfff"/>
<rect x="655" y="44" width="1" height="41" fill="#ff0000"/><rect x="654" y="45" width="3" height="21" fill="#ff0000"/>
<rect x="659" y="58" width="1" height="23" fill="#ff0000"/><rect x="658" y="65" width="3" height="1" fill="#ff0000"/>
<rect x="663" y="55" width="1" height="18" fill="#00bfff"/><rect x="662" y="65" width="3" height="1" fill="#00bfff"/>
<rect x="667" y="62" width="1" height="5" fill="#00bfff"/><rect x="666" y="62" width="3" height="4" fill="#00bfff"/>
<rect x="2" y="421" width="3" height="7" fill="#ff0000"/><rect x="6" y="424" width="3" height="4" fill="#ff0000"/><rect x="10" y="419" width="3" height="9" fill="#008000"/><rect x="14" y="420" width="3" height="8" fill="#ff0000"/><rect x="18" y="421" width="3" height="7" fill="#ff0000"/><rect x="22" y="424" width="3" height="4" fill="#ff0000"/><rect x="26" y="427" width="3" height="1" fill="#ff0000"/><rect x="30" y="428" width="3" height="9" fill="#ff0000"/><rect x="34" y="428" width="3" height="13" fill="#ff0000"/><rect x="38" y="428" width="3" height="17" fill="#ff0000"/><rect x="42" y="428" width="3" height="24" fill="#ff0000"/><rect x="46" y="428" width="3" height="33" fill="#ff0000"/><rect x="50" y="428" width="3" height="34" fill="#ff0000"/><rect x="54" y="428" width="3" height="32" fill="#008000"/><rect x="58" y="428" width="3" height="33" fill="#ff0000"/><rect x="62" y="428" width="3" height="30" fill="#008000"/><rect x="66" y="428" width="3" height="25" fill="#008000"/><rect x="70" y="428" width="3" height="21" fill="#008000"/><rect x="74" y="428" width="3" height="23" fill="#ff0000"/><rect x="78" y="428" width="3" height="34" fill="#ff0000"/><rect x="82" y="428" width="3" height="39" fill="#ff0000"/><rect x="86" y="428" width="3" height="43" fill="#ff0000"/><rect x="90" y="428" width="3" height="38" fill="#008000"/><rect x="94" y="428" width="3" height="35" fill="#008000"/><rect x="98" y="428" width="3" height="36" fill="#ff0000"/><rect x="102" y="428" width="3" height="36" fill="#008000"/><rect x="106" y="428" width="3" height="29" fill="#008000"/><rect x="110" y="428" width="3" height="23" fill="#008000"/><rect x="114" y="428" width="3" height="16" fill="#008000"/><rect x="118" y="428" width="3" height="7" fill="#008000"/><rect x="122" y="414" width="3" height="14" fill="#008000"/><rect x="126" y="400" width="3" height="28" fill="#008000"/><rect x="130" y="393" width="3" height="35" fill="#008000"/><rect x="134" y="394" width="3" height="34" fill="#ff0000"/><rect x="138" y="398" width="3" height="30" fill="#ff0000"/><rect x="142" y="395" width="3" height="33" fill="#008000"/><rect x="146" y="392" width="3" height="36" fill="#008000"/><rect x="150" y="394" width="3" height="34" fill="#ff0000"/><rect x="154" y="395" width="3" height="33" fill="#ff0000"/><rect x="158" y="389" width="3" height="39" fill="#008000"/><rect x="162" y="386" width="3" height="42" fill="#008000"/><rect x="166" y="386" width="3" height="42" fill="#008000"/><rect x="170" y="396" width="3" height="32" fill="#ff0000"/><rect x="174" y="400" width="3" height="28" fill="#ff0000"/><rect x="178" y="412" width="3" height="16" fill="#ff0000"/><rect x="182" y="423" width="3" height="5" fill="#ff0000"/><rect x="186" y="417" width="3" height="11" fill="#008000"/><rect x="190" y="416" width="3" height="12" fill="#008000"/><rect x="194" y="418" width="3" height="10" fill="#ff0000"/><rect x="198" y="419" width="3" height="9" fill="#ff0000"/><rect x="202" y="427" width="3" height="1" fill="#ff0000"/><rect x="206" y="428" width="3" height="5" fill="#ff0000"/><rect x="210" y="428" width="3" height="10" fill="#ff0000"/><rect x="214" y="428" width="3" height="10" fill="#ff0000"/><rect x="218" y="428" width="3" height="10" fill="#008000"/><rect x="222" y="428" width="3" height="8" fill="#008000"/><rect x="226" y="428" width="3" height="8" fill="#ff0000"/><rect x="230" y="428" width="3" height="4" fill="#008000"/><rect x="234" y="424" width="3" height="4" fill="#008000"/><rect x="238" y="416" width="3" height="12" fill="#008000"/><rect x="242" y="413" width="3" height="15" fill="#008000"/><rect x="246" y="413" width="3" height="15" fill="#008000"/><rect x="250" y="413" width="3" height="15" fill="#008000"/><rect x="254" y="410" width="3" height="18" fill="#008000"/><rect x="258" y="410" width="3" height="18" fill="#ff0000"/><rect x="262" y="415" width="3" height="13" fill="#ff0000"/><rect x="266" y="415" width="3" height="13" fill="#ff0000"/><rect x="270" y="413" width="3" height="15" fill="#008000"/><rect x="274" y="400" width="3" height="28" fill="#008000"/><rect x="278" y="387" width="3" height="41" fill="#008000"/><rect x="282" y="381" width="3" height="47" fill="#008000"/><rect x="286" y="380" width="3" height="48" fill="#008000"/><rect x="290" y="399" width="3" height="29" fill="#ff0000"/><rect x="294" y="428" width="3" height="18" fill="#ff0000"/><rect x="298" y="428" width="3" height="40" fill="#ff0000"/><rect x="302" y="428" width="3" height="44" fill="#ff0000"/><rect x="306" y="428" width="3" height="45" fill="#ff0000"/><rect x="310" y="428" width="3" height="45" fill="#008000"/><rect x="314" y="428" width="3" height="47" fill="#ff0000"/><rect x="318" y="428" width="3" height="44" fill="#008000"/><rect x="322" y="428" width="3" height="44" fill="#008000"/><rect x="326" y="428" width="3" height="42" fill="#008000"/><rect x="330" y="428" width="3" height="40" fill="#008000"/><rect x="334" y="428" width="3" height="37" fill="#008000"/><rect x="338" y="428" width="3" height="32" fill="#008000"/><rect x="342" y="428" width="3" height="29" fill="#008000"/><rect x="346" y="428" width="3" height="20" fill="#008000"/><rect x="350" y="428" width="3" height="16" fill="#008000"/><rect x="354" y="428" width="3" height="13" fill="#008000"/><rect x="358" y="428" width="3" height="13" fill="#ff0000"/><rect x="362" y="424" width="3" height="4" fill="#008000"/><rect x="366" y="408" width="3" height="20" fill="#008000"/><rect x="370" y="400" width="3" height="28" fill="#008000"/><rect x="374" y="404" width="3" height="24" fill="#ff0000"/><rect x="378" y="406" width="3" height="22" fill="#ff0000"/><rect x="382" y="417" width="3" height="11" fill="#ff0000"/><rect x="386" y="417" width="3" height="11" fill="#ff0000"/><rect x="390" y="412" width="3" height="16" fill="#008000"/><rect x="394" y="409" width="3" height="19" fill="#008000"/><rect x="398" y="408" width="3" height="20" fill="#008000"/><rect x="402" y="402" width="3" height="26" fill="#008000"/><rect x="406" y="398" width="3" height="30" fill="#008000"/><rect x="410" y="390" width="3" height="38" fill="#008000"/><rect x="414" y="387" width="3" height="41" fill="#008000"/><rect x="418" y="385" width="3" height="43" fill="#008000"/><rect x="422" y="381" width="3" height="47" fill="#008000"/><rect x="426" y="380" width="3" height="48" fill="#008000"/><rect x="430" y="379" width="3" height="49" fill="#008000"/><rect x="434" y="376" width="3" height="52" fill="#008000"/><rect x="438" y="374" width="3" height="54" fill="#008000"/><rect x="442" y="374" width="3" height="54" fill="#ff0000"/><rect x="446" y="380" width="3" height="48" fill="#ff0000"/><rect x="450" y="384" width="3" height="44" fill="#ff0000"/><rect x="454" y="382" width="3" height="46" fill="#008000"/><rect x="458" y="381" width="3" height="47" fill="#008000"/><rect x="462" y="383" width="3" height="45" fill="#ff0000"/><rect x="466" y="392" width="3" height="36" fill="#ff0000"/><rect x="470" y="406" width="3" height="22" fill="#ff0000"/><rect x="474" y="407" width="3" height="21" fill="#ff0000"/><rect x="478" y="402" width="3" height="26" fill="#008000"/><rect x="482" y="398" width="3" height="30" fill="#008000"/><rect x="486" y="399" width="3" height="29" fill="#ff0000"/><rect x="490" y="397" width="3" height="31" fill="#008000"/><rect x="494" y="391" width="3" height="37" fill="#008000"/><rect x="498" y="388" width="3" height="40" fill="#008000"/><rect x="502" y="387" width="3" height="41" fill="#008000"/><rect x="506" y="382" width="3" height="46" fill="#008000"/><rect x="510" y="388" width="3" height="40" fill="#ff0000"/><rect x="514" y="389" width="3" height="39" fill="#ff0000"/><rect x="518" y="390" width="3" height="38" fill="#ff0000"/><rect x="522" y="388" width="3" height="40" fill="#008000"/><rect x="526" y="385" width="3" height="43" fill="#008000"/><rect x="530" y="383" width="3" height="45" fill="#008000"/><rect x="534" y="385" width="3" height="43" fill="#ff0000"/><rect x="538" y="387" width="3" height="41" fill="#ff0000"/><rect x="542" y="387" width="3" height="41" fill="#ff0000"/><rect x="546" y="383" width="3" height="45" fill="#008000"/><rect x="550" y="387" width="3" height="41" fill="#ff0000"/><rect x="554" y="397" width="3" height="31" fill="#ff0000"/><rect x="558" y="411" width="3" height="17" fill="#ff0000"/><rect x="562" y="417" width="3" height="11" fill="#ff0000"/><rect x="566" y="425" width="3" height="3" fill="#ff0000"/><rect x="570" y="428" width="3" height="7" fill="#ff0000"/><rect x="574" y="428" width="3" height="11" fill="#ff0000"/><rect x="578" y="428" width="3" height="12" fill="#ff0000"/><rect x="582" y="428" width="3" height="12" fill="#ff0000"/><rect x="586" y="428" width="3" height="7" fill="#008000"/><rect x="590" y="428" width="3" height="1" fill="#008000"/><rect x="594" y="424" width="3" height="4" fill="#008000"/><rect x="598" y="421" width="3" height="7" fill="#008000"/><rect x="602" y="420" width="3" height="8" fill="#008000"/><rect x="606" y="422" width="3" height="6" fill="#ff0000"/><rect x="610" y="422" width="3" height="6" fill="#ff0000"/><rect x="614" y="422" width="3" height="6" fill="#ff0000"/><rect x="618" y="421" width="3" height="7" fill="#008000"/><rect x="622" y="421" width="3" height="7" fill="#008000"/><rect x="626" y="419" width="3" height="9" fill="#008000"/><rect x="630" y="413" width="3" height="15" fill="#008000"/><rect x="634" y="409" width="3" height="19" fill="#008000"/><rect x="638" y="406" width="3" height="22" fill="#008000"/><rect x="642" y="405" width="3" height="23" fill="#008000"/><rect x="646" y="404" width="3" height="24" fill="#008000"/><rect x="650" y="401" width="3" height="27" fill="#008000"/><rect x="654" y="405" width="3" height="23" fill="#ff0000"/><rect x="658" y="407" width="3" height="21" fill="#ff0000"/><rect x="662" y="410" width="3" height="18" fill="#ff0000"/>
<polyline points="3.5,406.5 7.5,411.7 11.5,416.2 15.5,419.5 19.5,421.5 23.5,422.1 27.5,422.7 31.5,426.1 35.5,430.1 39.5,434.7 43.5,440.1 47.5,446.7 51.5,451.7 55.5,455.5 59.5,458.7 63.5,459.9 67.5,458.3 71.5,455.7 75.5,453.9 79.5,454.1 83.5,455.9 87.5,459.5 91.5,462.9 95.5,465.3 99.5,465.7 103.5,465.1 107.5,462.3 111.5,459.3 115.5,455.5 119.5,449.7 123.5,439.9 127.5,428.7 131.5,417.3 135.5,407.5 139.5,400.3 143.5,396.5 147.5,394.9 151.5,395.1 155.5,395.3 159.5,393.5 163.5,391.7 167.5,390.5 171.5,390.9 175.5,391.9 179.5,396.5 183.5,403.9 187.5,410.1 191.5,414.1 195.5,417.7 199.5,419.1 203.5,419.9 207.5,422.9 211.5,427.1 215.5,430.9 219.5,434.5 223.5,436.1 227.5,436.7 231.5,435.5 235.5,432.9 239.5,428.7 243.5,424.3 247.5,419.9 251.5,416.3 255.5,413.5 259.5,412.3 263.5,412.7 267.5,413.1 271.5,413.1 275.5,411.1 279.5,406.5 283.5,399.7 287.5,392.7 291.5,389.9 295.5,398.9 299.5,414.9 303.5,432.9 307.5,451.3 311.5,465.9 315.5,471.7 319.5,472.5 323.5,472.5 327.5,471.9 331.5,470.9 335.5,468.9 339.5,466.5 343.5,463.5 347.5,459.1 351.5,454.3 355.5,449.5 359.5,445.7 363.5,439.3 367.5,431.5 371.5,422.9 375.5,415.7 379.5,408.9 383.5,407.5 387.5,409.3 391.5,411.7 395.5,412.7 399.5,413.1 403.5,410.1 407.5,406.3 411.5,401.9 415.5,397.5 419.5,392.9 423.5,388.7 427.5,385.1 431.5,382.9 435.5,380.7 439.5,378.5 443.5,377.1 447.5,377.1 451.5,378.1 455.5,379.3 459.5,380.7 463.5,382.5 467.5,384.9 471.5,389.3 475.5,394.3 479.5,398.5 483.5,401.5 487.5,402.9 491.5,401.1 495.5,397.9 499.5,395.1 503.5,392.9 507.5,389.5 511.5,387.7 515.5,387.3 519.5,387.7 523.5,387.9 527.5,388.5 531.5,387.5 535.5,386.7 539.5,386.1 543.5,385.9 547.5,385.5 551.5,386.3 555.5,388.7 559.5,393.5 563.5,399.5 567.5,407.9 571.5,417.3 575.5,425.5 579.5,431.1 583.5,435.5 587.5,437.3 591.5,436.1 595.5,433.3 599.5,429.7 603.5,425.9 607.5,423.5 611.5,422.3 615.5,421.9 619.5,421.9 623.5,422.1 627.5,421.5 631.5,419.7 635.5,417.1 639.5,414.1 643.5,410.9 647.5,407.9 651.5,405.5 655.5,404.7 659.5,404.9 663.5,405.9 667.5,406.3" fill="none" stroke="#c0c0c0" stroke-width="1"/>
<path d="M2 2h693v364h-693z M3 3v362h691v-362z" fill="#000" fill-rule="evenodd"/>
<path d="M2 367h693v113h-693z M3 368v111h691v-111z" fill="#000" fill-rule="evenodd"/>
<rect x="695" y="32" width="2" height="1" fill="#000"/><rect x="695" y="65" width="2" height="1" fill="#000"/><rect x="695" y="98" width="2" height="1" fill="#000"/><rect x="695" y="131" width="2" height="1" fill="#000"/><rect x="695" y="164" width="2" height="1" fill="#000"/><rect x="695" y="197" width="2" height="1" fill="#000"/><rect x="695" y="230" width="2" height="1" fill="#000"/><rect x="695" y="263" width="2" height="1" fill="#000"/><rect x="695" y="296" width="2" height="1" fill="#000"/><rect x="695" y="329" width="2" height="1" fill="#000"/><rect x="695" y="362" width="2" height="1" fill="#000"/><rect x="695" y="369" width="1" height="1" fill="#000"/><rect x="695" y="428" width="1" height="1" fill="#000"/><rect x="695" y="478" width="1" height="1" fill="#000"/>
<rect x="3" y="480" width="1" height="3" fill="#000"/><rect x="67" y="480" width="1" height="3" fill="#000"/><rect x="131" y="480" width="1" height="3" fill="#000"/><rect x="195" y="480" width="1" height="3" fill="#000"/><rect x="259" y="480" width="1" height="3" fill="#000"/><rect x="323" y="480" width="1" height="3" fill="#000"/><rect x="387" y="480" width="1" height="3" fill="#000"/><rect x="451" y="480" width="1" height="3" fill="#000"/><rect x="515" y="480" width="1" height="3" fill="#000"/><rect x="579" y="480" width="1" height="3" fill="#000"/><rect x="643" y="480" width="1" height="3" fill="#000"/>
<path d="M6 9h7v1h-1v1h-1v1h-1v1h-1v-1h-1v-1h-1v-1h-1z" fill="#000"/>
</g>
<text x="700" y="36" textLength="33.2" lengthAdjust="spacingAndGlyphs">1.19360</text>
<text x="700" y="69" textLength="33.2" lengthAdjust="spacingAndGlyphs">1.19220</text>
<text x="700" y="102" textLength="33.2" lengthAdjust="spacingAndGlyphs">1.19080</text>
<text x="700" y="135" textLength="33.2" lengthAdjust="spacingAndGlyphs">1.18940</text>
<text x="700" y="168" textLength="33.2" lengthAdjust="spacingAndGlyphs">1.18800</text>
<text x="700" y="201" textLength="33.2" lengthAdjust="spacingAndGlyphs">1.18660</text>
<text x="700" y="234" textLength="33.2" lengthAdjust="spacingAndGlyphs">1.18520</text>
<text x="700" y="267" textLength="33.2" lengthAdjust="spacingAndGlyphs">1.18380</text>
<text x="700" y="300" textLength="33.2" lengthAdjust="spacingAndGlyphs">1.18240</text>
<text x="700" y="333" textLength="33.2" lengthAdjust="spacingAndGlyphs">1.18100</text>
<text x="700" y="366" textLength="33.2" lengthAdjust="spacingAndGlyphs">1.17960</text>
<text x="697.7" y="378" textLength="43.4" lengthAdjust="spacingAndGlyphs">0.0026031</text>
<text x="697.8" y="432" textLength="18.2" lengthAdjust="spacingAndGlyphs">0.00</text>
<text x="697.9" y="476" textLength="46.0" lengthAdjust="spacingAndGlyphs">-0.0022194</text>
<text x="18.4" y="14" textLength="53.9" lengthAdjust="spacingAndGlyphs">EURUSD,H1</text>
<text x="78.2" y="14" textLength="141.2" lengthAdjust="spacingAndGlyphs">1.19219 1.19231 1.19213 1.19230</text>
<text x="7.3" y="380" textLength="33.7" lengthAdjust="spacingAndGlyphs">MACD_</text>
<text x="41.0" y="380" textLength="51.2" lengthAdjust="spacingAndGlyphs">color(5,34,5)</text>
<text x="95.1" y="380" textLength="150.1" lengthAdjust="spacingAndGlyphs">0.00000000 0.00000000 0.00093483</text>
<text x="2.8" y="492" textLength="53.4" lengthAdjust="spacingAndGlyphs">18 Nov 2020</text>
<text x="66.8" y="492" textLength="56.4" lengthAdjust="spacingAndGlyphs">19 Nov 07:00</text>
<text x="130.8" y="492" textLength="56.4" lengthAdjust="spacingAndGlyphs">19 Nov 23:00</text>
<text x="194.8" y="492" textLength="56.4" lengthAdjust="spacingAndGlyphs">20 Nov 15:00</text>
<text x="258.8" y="492" textLength="56.4" lengthAdjust="spacingAndGlyphs">23 Nov 08:00</text>
<text x="322.8" y="492" textLength="56.4" lengthAdjust="spacingAndGlyphs">24 Nov 00:00</text>
<text x="386.8" y="492" textLength="56.4" lengthAdjust="spacingAndGlyphs">24 Nov 16:00</text>
<text x="450.8" y="492" textLength="56.4" lengthAdjust="spacingAndGlyphs">25 Nov 08:00</text>
<text x="514.8" y="492" textLength="56.4" lengthAdjust="spacingAndGlyphs">26 Nov 00:00</text>
<text x="578.8" y="492" textLength="56.4" lengthAdjust="spacingAndGlyphs">26 Nov 16:00</text>
<text x="642.8" y="492" textLength="56.4" lengthAdjust="spacingAndGlyphs">27 Nov 08:00</text>
<g shape-rendering="crispEdges"><rect x="696" y="17" width="41" height="11" fill="#ff0000"/><rect x="696" y="57" width="41" height="11" fill="#000"/><rect x="696" y="156" width="41" height="11" fill="#ff0000"/><rect x="696" y="270" width="41" height="11" fill="#ff0000"/><rect x="696" y="351" width="41" height="11" fill="#ff0000"/></g>
<text class="w" x="700" y="26" textLength="33.2" lengthAdjust="spacingAndGlyphs">1.19398</text>
<text class="w" x="700" y="66" textLength="33.2" lengthAdjust="spacingAndGlyphs">1.19230</text>
<text class="w" x="700" y="165" textLength="33.2" lengthAdjust="spacingAndGlyphs">1.18809</text>
<text class="w" x="700" y="279" textLength="33.2" lengthAdjust="spacingAndGlyphs">1.18325</text>
<text class="w" x="700" y="360" textLength="33.2" lengthAdjust="spacingAndGlyphs">1.17983</text>
</svg>
</body></html>
